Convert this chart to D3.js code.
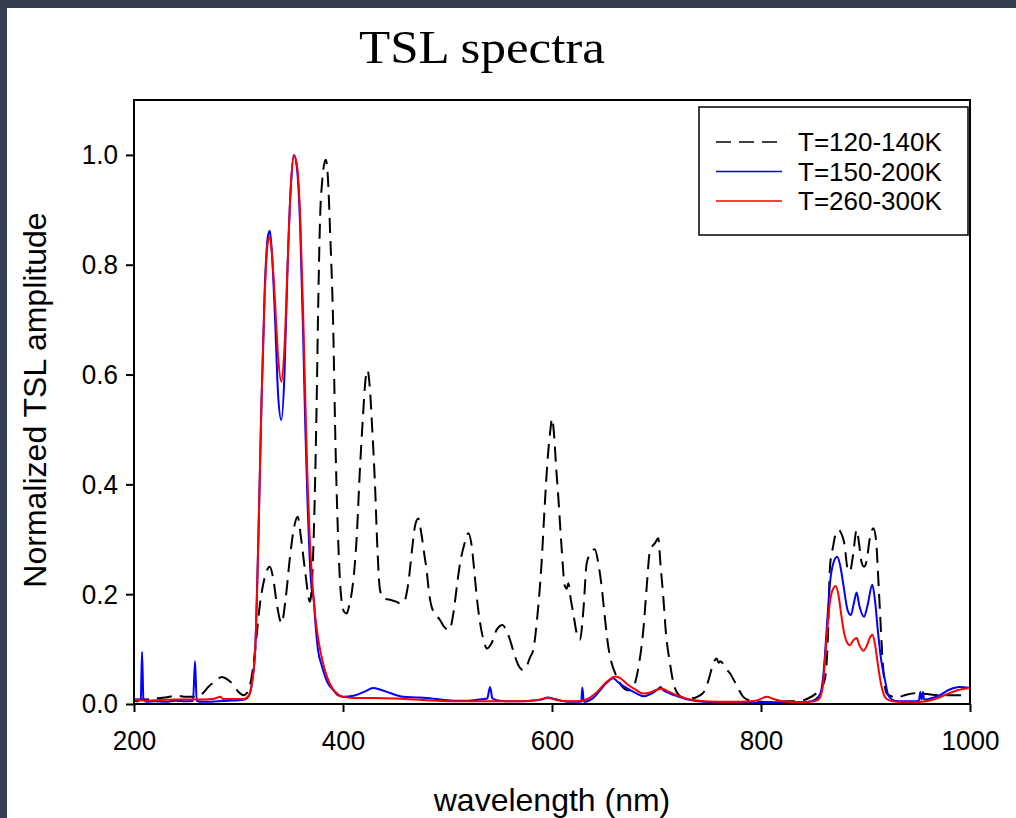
<!DOCTYPE html>
<html>
<head>
<meta charset="utf-8">
<script src="https://cdn.jsdelivr.net/npm/d3@7"></script>
<style>
  html, body { margin: 0; padding: 0; background: #333e51; }
  svg { display: block; }
</style>
</head>
<body>
<svg id="chart" width="1016" height="818"></svg>
<script>
// Wavelength (nm) / normalized amplitude pairs for each temperature window
const lowTempNm = [200,210,220,230,240,250,260,266,271,278,284,290,295,300,304.6,308,312.6,316,320.6,325,330,333.5,336.6,341.3,345,349.3,353,356.6,360,363.6,368.4,371,373,374.8,376.5,378,380,383.5,385.5,387.6,390.7,392.5,395,398,401,403.5,406,409.9,413,416,419,421.5,423.5,425.5,428,430.6,433,435.4,438.6,445,451.4,455,458.4,462.5,466,469,472,475,478,480,482.5,484.8,488,492.8,497,501.7,506,509,512,516,520,523,526,528,531,534,538,542,547,552.8,556,559.8,564,568,572,576,579,582,586,590,593,596,598.5,600,602,604,606,609,612.4,614,615.6,618,620.4,623.5,626.8,630,633.2,637,641,644,647.5,651,653.9,657,661.9,667,673,676,679.4,683,687.4,690.5,693.8,698.6,701.7,704,706.5,709,712.9,716,719.3,725,732,740,746.4,750,754,757.6,759.5,761.4,764,767,770.3,775,780,783,790,800,810,824,835,845,852,856,861,864,866,869,871.5,874.6,877,880,882.5,885,888,891.5,894,896,898.6,901,904,907.5,910,913,916.8,920,925,930,939,950,959,970,980,990,1000];
const lowTempVal = [0.008,0.008,0.01,0.012,0.015,0.013,0.013,0.02,0.031,0.042,0.049,0.044,0.035,0.022,0.016,0.02,0.05,0.1,0.183,0.23,0.25,0.225,0.183,0.147,0.19,0.268,0.32,0.341,0.3,0.244,0.186,0.25,0.38,0.55,0.75,0.88,0.95,0.991,0.96,0.863,0.681,0.5,0.32,0.2,0.168,0.165,0.18,0.226,0.3,0.42,0.52,0.59,0.608,0.58,0.5,0.4,0.28,0.208,0.192,0.19,0.186,0.183,0.186,0.22,0.28,0.325,0.338,0.31,0.27,0.244,0.2,0.177,0.165,0.153,0.14,0.135,0.17,0.215,0.256,0.29,0.311,0.29,0.235,0.195,0.15,0.12,0.101,0.11,0.135,0.144,0.135,0.117,0.09,0.07,0.062,0.07,0.085,0.098,0.16,0.256,0.36,0.45,0.5,0.52,0.49,0.43,0.378,0.29,0.214,0.21,0.22,0.19,0.165,0.13,0.117,0.17,0.256,0.275,0.282,0.26,0.214,0.15,0.104,0.075,0.05,0.032,0.025,0.027,0.038,0.07,0.135,0.21,0.28,0.293,0.302,0.25,0.195,0.13,0.074,0.04,0.022,0.012,0.01,0.014,0.025,0.045,0.072,0.083,0.075,0.078,0.072,0.063,0.056,0.04,0.022,0.013,0.006,0.004,0.003,0.005,0.005,0.01,0.018,0.025,0.044,0.12,0.25,0.287,0.31,0.317,0.31,0.29,0.25,0.241,0.27,0.317,0.29,0.26,0.25,0.26,0.3,0.32,0.3,0.2,0.068,0.02,0.014,0.012,0.017,0.02,0.018,0.016,0.016,0.016,0.016];

const midTempNm = [200,204,206.5,207.7,209,212,220,230,240,250,256.5,258.4,260,265,280,290,300,306,310,313,316,319,322,325,328,330,332,335,338,341,344,347,350,353,356,359,362,364,366,368,370,372,373.5,376,380,385,390.8,395,400,410,420,429,436,445,457.7,470,480,490,500,510,520,530,538,540.7,543,550,560,570,580,590,596,603,615,625,628,629,630.5,635,640,646,652,658.7,663,668,675,682,688,693,698,702,704,706,712,720,730,740,755,770,790,810,830,845,852,857,860,863,866,869,873,876,879,883,886,889,891.5,894,898.6,902,906.5,909,912,915,918.6,922,928,935,945,951,952.5,953.5,955,956,962,970,980,990,1000];
const midTempVal = [0.006,0.005,0.01,0.095,0.01,0.004,0.005,0.004,0.006,0.005,0.006,0.078,0.006,0.004,0.005,0.006,0.007,0.008,0.015,0.04,0.1,0.3,0.55,0.75,0.85,0.862,0.82,0.7,0.56,0.517,0.6,0.8,0.94,1.0,0.975,0.87,0.66,0.5,0.37,0.27,0.21,0.19,0.15,0.1,0.068,0.04,0.025,0.016,0.013,0.015,0.022,0.029,0.026,0.02,0.013,0.012,0.011,0.009,0.007,0.006,0.006,0.008,0.01,0.031,0.01,0.006,0.005,0.005,0.006,0.008,0.012,0.009,0.004,0.004,0.004,0.03,0.004,0.006,0.012,0.025,0.038,0.047,0.04,0.033,0.025,0.018,0.014,0.017,0.022,0.028,0.031,0.026,0.02,0.014,0.008,0.005,0.003,0.002,0.002,0.003,0.003,0.004,0.008,0.02,0.06,0.14,0.22,0.255,0.268,0.25,0.215,0.17,0.162,0.185,0.203,0.18,0.159,0.18,0.217,0.19,0.13,0.08,0.044,0.015,0.006,0.005,0.005,0.006,0.022,0.008,0.022,0.008,0.01,0.015,0.026,0.031,0.029];

const highTempNm = [200,210,220,240,260,275,283,285,295,305,310,313,316,319,322,325,328,330,332,335,338,341,344,347,350,353,356,359,362,364,366,368,370,372,374,377,381,385,390,395,400,410,430,450,470,490,510,530,550,570,585,596,605,615,625,635,642,650,656,661,666,672,680,687,694,700,705,710,718,728,740,760,780,795,805.6,812,820,835,848,855,859,862,865,868,871.5,874,877,880,883,885,888,891.5,894,897.8,901,904,906.5,909,912,915,918,922,930,945,958,968,978,988,1000];
const highTempVal = [0.008,0.006,0.007,0.008,0.008,0.009,0.013,0.009,0.009,0.009,0.016,0.04,0.1,0.3,0.55,0.74,0.84,0.851,0.82,0.73,0.63,0.587,0.65,0.8,0.94,1.0,0.98,0.89,0.7,0.55,0.41,0.31,0.24,0.19,0.15,0.11,0.074,0.048,0.028,0.018,0.013,0.011,0.011,0.01,0.008,0.006,0.005,0.005,0.005,0.005,0.007,0.011,0.007,0.005,0.005,0.01,0.02,0.036,0.046,0.05,0.046,0.036,0.026,0.019,0.021,0.026,0.028,0.024,0.017,0.01,0.006,0.004,0.004,0.006,0.013,0.009,0.005,0.003,0.004,0.008,0.03,0.1,0.17,0.205,0.215,0.2,0.16,0.125,0.11,0.107,0.115,0.12,0.108,0.097,0.105,0.12,0.126,0.11,0.07,0.035,0.015,0.007,0.004,0.003,0.005,0.01,0.018,0.025,0.029];

const seriesNames = ["T=120-140K", "T=150-200K", "T=260-300K"];
const xTicks = [200, 400, 600, 800, 1000];
const yTicks = [0.0, 0.2, 0.4, 0.6, 0.8, 1.0];

const svg = d3.select("#chart");

// white page inside the dark slide edge
svg.append("rect").attr("x", 7).attr("y", 8).attr("width", 1009).attr("height", 810).attr("fill", "#ffffff");

const plot = { left: 134, right: 970, top: 100, bottom: 704 };
const x = d3.scaleLinear().domain([200, 1000]).range([plot.left, plot.right]);
const y = d3.scaleLinear().domain([0, 1.1]).range([plot.bottom, plot.top]);

// title
svg.append("text")
  .attr("x", 482).attr("y", 63)
  .attr("text-anchor", "middle")
  .attr("font-family", "'Liberation Serif', 'DejaVu Serif', serif")
  .attr("font-size", 46)
  .attr("textLength", 246).attr("lengthAdjust", "spacingAndGlyphs")
  .text("TSL spectra");

// clip for the traces
svg.append("clipPath").attr("id", "plotClip")
  .append("rect").attr("x", plot.left).attr("y", plot.top)
  .attr("width", plot.right - plot.left).attr("height", plot.bottom - plot.top);

const line = d3.line()
  .x(d => x(d[0]))
  .y(d => y(d[1]))
  .curve(d3.curveMonotoneX);

const traces = svg.append("g").attr("clip-path", "url(#plotClip)");

const series = [
  { nm: lowTempNm, val: lowTempVal, color: "#000000", dash: "15,8" },
  { nm: midTempNm, val: midTempVal, color: "#0000ff", dash: null },
  { nm: highTempNm, val: highTempVal, color: "#ff0000", dash: null }
];

series.forEach(s => {
  traces.append("path")
    .datum(d3.zip(s.nm, s.val))
    .attr("fill", "none")
    .attr("stroke", s.color)
    .attr("stroke-width", 2)
    .attr("stroke-linejoin", "round")
    .attr("stroke-dasharray", s.dash)
    .attr("d", line);
});

// axes
const axisFont = "'Liberation Sans', Arial, sans-serif";

const xAxis = svg.append("g")
  .attr("transform", `translate(0,${plot.bottom})`)
  .call(d3.axisBottom(x).tickValues(xTicks).tickSize(8).tickSizeOuter(0).tickPadding(18).tickFormat(d3.format("d")));
const yAxis = svg.append("g")
  .attr("transform", `translate(${plot.left},0)`)
  .call(d3.axisLeft(y).tickValues(yTicks).tickSize(8).tickSizeOuter(0).tickPadding(8).tickFormat(d3.format(".1f")));

[xAxis, yAxis].forEach(g => {
  g.select(".domain").remove();
  g.selectAll(".tick line").attr("stroke", "#000").attr("stroke-width", 2);
  g.selectAll(".tick text")
    .attr("fill", "#000").attr("font-family", axisFont).attr("font-size", 28)
    .each(function () {
      // slightly narrow glyphs: keep the tall digits but a tighter run
      const w = this.getComputedTextLength();
      d3.select(this).attr("textLength", w * 0.93).attr("lengthAdjust", "spacingAndGlyphs");
    });
});

// frame
svg.append("rect")
  .attr("x", plot.left).attr("y", plot.top)
  .attr("width", plot.right - plot.left).attr("height", plot.bottom - plot.top)
  .attr("fill", "none").attr("stroke", "#000").attr("stroke-width", 2);

// axis titles
svg.append("text")
  .attr("x", 552).attr("y", 811)
  .attr("text-anchor", "middle")
  .attr("font-family", axisFont).attr("font-size", 32)
  .text("wavelength (nm)");

svg.append("text")
  .attr("transform", "translate(46,400) rotate(-90)")
  .attr("text-anchor", "middle")
  .attr("font-family", axisFont).attr("font-size", 32)
  .text("Normalized TSL amplitude");

// legend
const legend = svg.append("g");
legend.append("rect")
  .attr("x", 699).attr("y", 107).attr("width", 269).attr("height", 128)
  .attr("fill", "#fff").attr("stroke", "#000").attr("stroke-width", 1.5);

const rowY = d3.scalePoint().domain(seriesNames).range([142, 201]);
series.forEach((s, i) => {
  const name = seriesNames[i];
  legend.append("line")
    .attr("x1", 716).attr("x2", 782)
    .attr("y1", rowY(name)).attr("y2", rowY(name))
    .attr("stroke", s.color).attr("stroke-width", 1.5)
    .attr("stroke-dasharray", s.dash);
  legend.append("text")
    .attr("x", 798).attr("y", rowY(name))
    .attr("dy", "0.35em")
    .attr("font-family", axisFont).attr("font-size", 26)
    .text(name);
});
</script>
</body>
</html>
